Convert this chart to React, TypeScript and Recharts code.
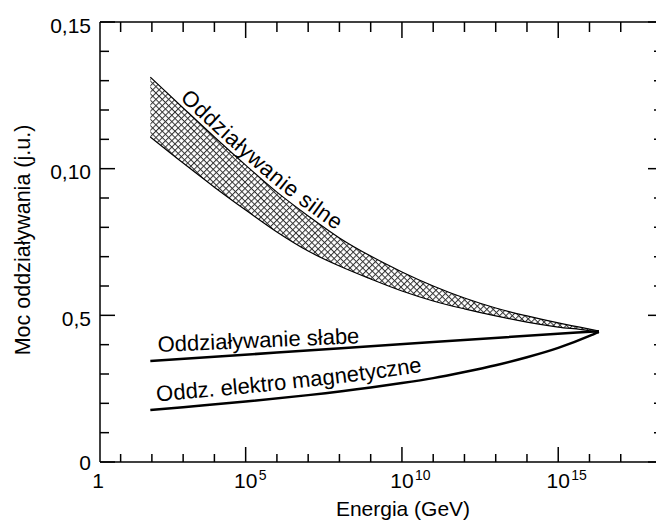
import React from "react";
import { ComposedChart, Area, Line, XAxis, YAxis } from "recharts";

// log10(E / GeV) sample points
const strongLog = [1.95, 3, 4, 5, 6, 7, 8, 9, 10, 11, 12, 13, 14, 15, 16, 16.3];
const strongHigh = [0.1312, 0.1207, 0.1108, 0.1012, 0.092, 0.0839, 0.0764, 0.0702, 0.0648, 0.06, 0.0559, 0.0525, 0.0498, 0.0474, 0.0453, 0.0447];
const strongLow = [0.1108, 0.1019, 0.0937, 0.0859, 0.0784, 0.0719, 0.0668, 0.0624, 0.0583, 0.0549, 0.0522, 0.0498, 0.0477, 0.046, 0.0447, 0.044];

const weakLog = [1.95, 6, 11, 16.3];
const weakValue = [0.0344, 0.0373, 0.0409, 0.0446];

const emLog = [1.95, 3, 5, 7, 9, 10, 11, 12, 13, 14, 15, 16, 16.3];
const emValue = [0.0177, 0.0187, 0.0206, 0.0228, 0.0254, 0.0269, 0.0286, 0.0307, 0.0330, 0.0357, 0.0389, 0.0430, 0.0444];

const xTicks = [1, 2, 3, 4, 5, 6, 7, 8, 9, 10, 11, 12, 13, 14, 15, 16, 17];
const xMajor: Record<number, string> = { 5: "5", 10: "10", 15: "15" };
const yTicks = [0, 0.01, 0.02, 0.03, 0.04, 0.05, 0.06, 0.07, 0.08, 0.09, 0.1, 0.11, 0.12, 0.13, 0.14, 0.15];
const yLabels: Record<number, string> = { 0: "0", 5: "0,5", 10: "0,10", 15: "0,15" };

const X_MIN = 0.34;
const X_MAX = 18.16;
const W = 658;
const H = 520;
// axes take 1px each, so the plot box is x 100..657, y 22..462
const M = { top: 21, right: 0, bottom: 57, left: 99 };
const FONT = "Arial, 'Liberation Sans', sans-serif";

const strongData = strongLog.map((x, i) => ({
  x,
  band: [strongLow[i], strongHigh[i]],
  hi: strongHigh[i],
  lo: strongLow[i],
}));
const weakData = weakLog.map((x, i) => ({ x, weak: weakValue[i] }));
const emData = emLog.map((x, i) => ({ x, em: emValue[i] }));

// only used to lay the curved labels along the curves
const PL = 100, PT = 22, PW = 557, PH = 440;
const sx = (v: number) => PL + ((v - X_MIN) / (X_MAX - X_MIN)) * PW;
const sy = (v: number) => PT + ((0.15 - v) / 0.15) * PH;

function smoothPath(xs: number[], ys: number[]) {
  const p = xs.map((x, i) => [sx(x), sy(ys[i])]);
  let d = `M${p[0][0]},${p[0][1]}`;
  for (let i = 1; i < p.length - 1; i++) {
    const mx = (p[i][0] + p[i + 1][0]) / 2;
    const my = (p[i][1] + p[i + 1][1]) / 2;
    d += ` Q${p[i][0]},${p[i][1]} ${mx},${my}`;
  }
  const l = p[p.length - 1];
  d += ` L${l[0]},${l[1]}`;
  return d;
}

const BottomTick = (props: any) => {
  const { x, y, payload } = props;
  const v = payload.value;
  if (v === X_MIN) {
    return (
      <text x={x - 2} y={y + 26} textAnchor="middle" fontSize={21} fontFamily={FONT} fill="#000">
        1
      </text>
    );
  }
  const exp = xMajor[v];
  return (
    <g>
      <line x1={x} y1={y} x2={x} y2={y - (exp ? 15 : 8)} stroke="#000" strokeWidth={1.5} />
      {exp && (
        <>
          <text x={x} y={y + 26} textAnchor="middle" fontSize={21} fontFamily={FONT} fill="#000">
            10
          </text>
          <text x={x + 13} y={y + 18} textAnchor="start" fontSize={14} fontFamily={FONT} fill="#000">
            {exp}
          </text>
        </>
      )}
    </g>
  );
};

const TopTick = (props: any) => {
  const { x, y, payload } = props;
  const major = !!xMajor[payload.value];
  return <line x1={x} y1={y} x2={x} y2={y + (major ? 16 : 10)} stroke="#000" strokeWidth={1.5} />;
};

const LeftTick = (props: any) => {
  const { x, y, payload } = props;
  const k = Math.round(payload.value * 100);
  const label = yLabels[k];
  return (
    <g>
      <line x1={x} y1={y} x2={x + (label ? 15 : 9)} y2={y} stroke="#000" strokeWidth={1.5} />
      {label && (
        <text x={x - 9} y={y + (k === 0 ? 7.5 : 10.5)} textAnchor="end" fontSize={21} fontFamily={FONT} fill="#000">
          {label}
        </text>
      )}
    </g>
  );
};

const RightTick = (props: any) => {
  const { x, y, payload } = props;
  const major = Math.round(payload.value * 100) % 5 === 0;
  return <line x1={x} y1={y} x2={x - (major ? 9 : 3)} y2={y} stroke="#000" strokeWidth={1.5} />;
};

export default function App() {
  return (
    <div style={{ position: "absolute", left: 0, top: 0, width: 656, height: 520, overflow: "hidden", background: "#fff" }}>
      <svg width={0} height={0} style={{ position: "absolute" }}>
        <defs>
          <pattern id="hatch" width={4.5} height={4.5} patternUnits="userSpaceOnUse" patternTransform="rotate(45)">
            <rect width={4.5} height={4.5} fill="#fff" />
            <line x1={0} y1={0.5} x2={4.5} y2={0.5} stroke="#333" strokeWidth={1} />
            <line x1={0.5} y1={0} x2={0.5} y2={4.5} stroke="#333" strokeWidth={1} />
          </pattern>
        </defs>
      </svg>
      <ComposedChart width={W} height={H} margin={M}>
        <XAxis
          xAxisId="bottom"
          type="number"
          dataKey="x"
          domain={[X_MIN, X_MAX]}
          allowDataOverflow
          ticks={[X_MIN, ...xTicks]}
          interval={0}
          height={1}
          tickSize={0}
          tickMargin={0}
          tickLine={false}
          axisLine={{ stroke: "#000", strokeWidth: 1.5 }}
          tick={(p: any) => <BottomTick {...p} />}
        />
        <XAxis
          xAxisId="top"
          orientation="top"
          type="number"
          dataKey="x"
          domain={[X_MIN, X_MAX]}
          allowDataOverflow
          ticks={xTicks}
          interval={0}
          height={1}
          tickSize={0}
          tickMargin={0}
          tickLine={false}
          axisLine={{ stroke: "#000", strokeWidth: 1.5 }}
          tick={(p: any) => <TopTick {...p} />}
        />
        <YAxis
          yAxisId="left"
          type="number"
          domain={[0, 0.15]}
          allowDataOverflow
          ticks={yTicks}
          interval={0}
          width={1}
          tickSize={0}
          tickMargin={0}
          tickLine={false}
          axisLine={{ stroke: "#000", strokeWidth: 1.5 }}
          tick={(p: any) => <LeftTick {...p} />}
        />
        <YAxis
          yAxisId="right"
          orientation="right"
          type="number"
          domain={[0, 0.15]}
          allowDataOverflow
          ticks={yTicks}
          interval={0}
          width={1}
          tickSize={0}
          tickMargin={0}
          tickLine={false}
          axisLine={false}
          tick={(p: any) => <RightTick {...p} />}
        />
        <Area
          xAxisId="bottom"
          yAxisId="left"
          data={strongData}
          dataKey="band"
          type="monotone"
          fill="url(#hatch)"
          fillOpacity={1}
          stroke="none"
          isAnimationActive={false}
        />
        <Line xAxisId="bottom" yAxisId="left" data={strongData} dataKey="hi" type="monotone" stroke="#000" strokeWidth={1.2} dot={false} isAnimationActive={false} />
        <Line xAxisId="bottom" yAxisId="left" data={strongData} dataKey="lo" type="monotone" stroke="#000" strokeWidth={1.2} dot={false} isAnimationActive={false} />
        <Line xAxisId="bottom" yAxisId="left" data={weakData} dataKey="weak" type="monotone" stroke="#000" strokeWidth={2.5} dot={false} isAnimationActive={false} />
        <Line xAxisId="bottom" yAxisId="left" data={emData} dataKey="em" type="monotone" stroke="#000" strokeWidth={2.5} dot={false} isAnimationActive={false} />
      </ComposedChart>
      <svg width={656} height={520} style={{ position: "absolute", left: 0, top: 0, pointerEvents: "none" }}>
        <defs>
          <path id="strongPath" d={smoothPath(strongLog, strongHigh)} />
          <path id="emPath" d={smoothPath(emLog, emValue)} />
        </defs>
        <text fontSize={22} fontFamily={FONT} fill="#000" dy={-4} letterSpacing={0.6}>
          <textPath href="#strongPath" startOffset={36}>
            Oddziaływanie silne
          </textPath>
        </text>
        <text x={158} y={352} fontSize={22} fontFamily={FONT} fill="#000" transform="rotate(-2.5 158 352)">
          Oddziaływanie słabe
        </text>
        <text fontSize={22} fontFamily={FONT} fill="#000" dy={-8}>
          <textPath href="#emPath" startOffset={7}>
            Oddz. elektro magnetyczne
          </textPath>
        </text>
        <text x={403} y={516} textAnchor="middle" fontSize={21} fontFamily={FONT} fill="#000">
          Energia (GeV)
        </text>
        <text x={30} y={240} textAnchor="middle" fontSize={21.5} fontFamily={FONT} fill="#000" transform="rotate(-90 30 240)">
          Moc oddziaływania (j.u.)
        </text>
      </svg>
    </div>
  );
}
